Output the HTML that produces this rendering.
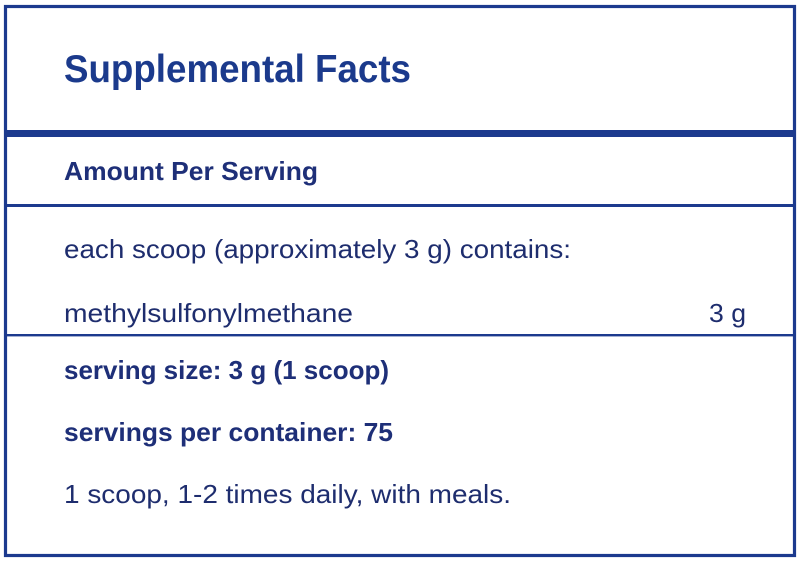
<!DOCTYPE html>
<html>
<head>
<meta charset="utf-8">
<style>
  html,body{margin:0;padding:0;background:#ffffff;}
  body{width:800px;height:562px;overflow:hidden;}
  svg{display:block;}
  .t{font-family:"Liberation Sans",sans-serif;}
</style>
</head>
<body>
<svg width="800" height="562" viewBox="0 0 800 562" xmlns="http://www.w3.org/2000/svg">
  <rect x="0" y="0" width="800" height="562" fill="#ffffff"/>
  <!-- outer border -->
  <rect x="5.5" y="6.5" width="789" height="549" fill="none" stroke="#1c3a8e" stroke-width="3.2"/>
  <!-- thick divider -->
  <rect x="5" y="130" width="790" height="7" fill="#1c3a8e"/>
  <!-- thin dividers -->
  <rect x="5" y="204" width="790" height="3" fill="#1c3a8e"/>
  <rect x="5" y="334" width="790" height="2.4" fill="#1c3a8e"/>

  <text class="t" x="64" y="82" font-size="39" font-weight="bold" fill="#1b3a8c" textLength="347" lengthAdjust="spacingAndGlyphs">Supplemental Facts</text>
  <text class="t" x="64" y="180" font-size="26" font-weight="bold" fill="#1e2f78" textLength="254" lengthAdjust="spacingAndGlyphs">Amount Per Serving</text>

  <text class="t" x="64" y="258" font-size="26" fill="#1e2d6e" textLength="507" lengthAdjust="spacingAndGlyphs">each scoop (approximately 3 g) contains:</text>
  <text class="t" x="64" y="322" font-size="26" fill="#1e2d6e" textLength="289" lengthAdjust="spacingAndGlyphs">methylsulfonylmethane</text>
  <text class="t" x="709" y="322" font-size="26" fill="#1e2d6e" textLength="37" lengthAdjust="spacingAndGlyphs">3 g</text>

  <text class="t" x="64" y="379" font-size="26" font-weight="bold" fill="#1e2f78" textLength="325" lengthAdjust="spacingAndGlyphs">serving size: 3 g (1 scoop)</text>
  <text class="t" x="64" y="441" font-size="26" font-weight="bold" fill="#1e2f78" textLength="329" lengthAdjust="spacingAndGlyphs">servings per container: 75</text>
  <text class="t" x="64" y="503" font-size="26" fill="#1e2d6e" textLength="447" lengthAdjust="spacingAndGlyphs">1 scoop, 1-2 times daily, with meals.</text>
</svg>
</body>
</html>
